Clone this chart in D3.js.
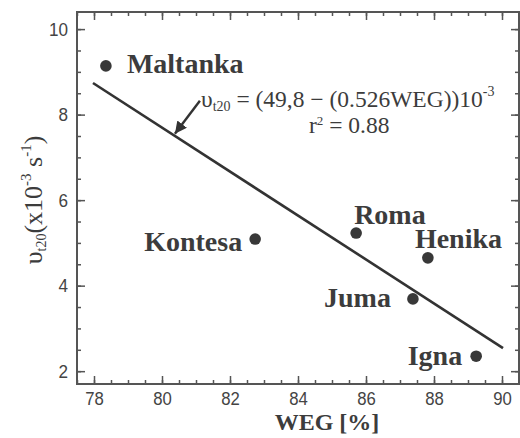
<!DOCTYPE html>
<html>
<head>
<meta charset="utf-8">
<script src="https://cdn.jsdelivr.net/npm/d3@7"></script>
<style>
  html, body { margin: 0; padding: 0; background: #fff; }
  svg { display: block; }
  .tick text { font-family: "Liberation Sans", Arial, sans-serif; font-size: 19px; fill: #444; }
  .tick line { stroke: #555; stroke-width: 1.5; }
  .domain { display: none; }
</style>
</head>
<body>
<div id="chart"></div>
<script>
// data
var cultivars = ["Maltanka", "Kontesa", "Roma", "Henika", "Juma", "Igna"]
var weg = [78.35, 82.74, 85.71, 87.82, 87.38, 89.24]
var v20 = [9.14, 5.09, 5.23, 4.65, 3.69, 2.35]
// fitted line end points: v = (49,8 - 0.526 WEG) 10^-3
var fitWeg = [77.97, 90.03]
var fitV = [8.74, 2.54]
var xTicks = [78, 80, 82, 84, 86, 88, 90]
var yTicks = [2, 4, 6, 8, 10]
var xMinor = d3.range(77.5, 90.51, 0.5)
var yMinor = d3.range(2, 10.41, 0.5)

var W = 520, H = 438
var margin = {top: 12, right: 1, bottom: 54, left: 77}
var width = W - margin.left - margin.right,
    height = H - margin.top - margin.bottom

var ink = "#3c3c3c"

var svg = d3.select("#chart").append("svg")
    .attr("width", W)
    .attr("height", H)

var g = svg.append("g").attr("transform", "translate(" + margin.left + "," + margin.top + ")")

var x = d3.scaleLinear().domain([77.5, 90.5]).range([0, width])
var y = d3.scaleLinear().domain([1.7, 10.4]).range([height, 0])

// minor ticks, all four sides
g.append("g").attr("transform", "translate(0," + height + ")")
    .call(d3.axisBottom(x).tickValues(xMinor).tickSize(-4).tickSizeOuter(0).tickFormat(""))
g.append("g")
    .call(d3.axisTop(x).tickValues(xMinor).tickSize(-4).tickSizeOuter(0).tickFormat(""))
g.append("g")
    .call(d3.axisLeft(y).tickValues(yMinor).tickSize(-4).tickSizeOuter(0).tickFormat(""))
g.append("g").attr("transform", "translate(" + width + ",0)")
    .call(d3.axisRight(y).tickValues(yMinor).tickSize(-4).tickSizeOuter(0).tickFormat(""))

// major ticks
var xAxis = g.append("g").attr("transform", "translate(0," + height + ")")
    .call(d3.axisBottom(x).tickValues(xTicks).tickSize(-8).tickSizeOuter(0).tickPadding(8))
xAxis.selectAll("text").attr("transform", "scale(0.88,1)")
g.append("g")
    .call(d3.axisTop(x).tickValues(xTicks).tickSize(-8).tickSizeOuter(0).tickFormat(""))
var yAxis = g.append("g")
    .call(d3.axisLeft(y).tickValues(yTicks).tickSize(-8).tickSizeOuter(0).tickPadding(10))
yAxis.selectAll("text").attr("transform", "scale(0.9,1)")
g.append("g").attr("transform", "translate(" + width + ",0)")
    .call(d3.axisRight(y).tickValues(yTicks).tickSize(-8).tickSizeOuter(0).tickFormat(""))

// frame
g.append("rect")
    .attr("width", width)
    .attr("height", height)
    .attr("fill", "none")
    .attr("stroke", "#555")
    .attr("stroke-width", 2)

// regression line
var line = d3.line()
    .x(function(d) { return x(d[0]) })
    .y(function(d) { return y(d[1]) })

g.append("path")
    .datum(fitWeg.map(function(d, i) { return [d, fitV[i]] }))
    .attr("d", line)
    .attr("fill", "none")
    .attr("stroke", "#333")
    .attr("stroke-width", 2.6)

// points
var pts = cultivars.map(function(c, i) { return {name: c, x: weg[i], y: v20[i]} })

g.selectAll(".dot")
    .data(pts)
    .enter().append("circle")
    .attr("class", "dot")
    .attr("cx", function(d) { return x(d.x) })
    .attr("cy", function(d) { return y(d.y) })
    .attr("r", 5.8)
    .attr("fill", "#383838")

// label placement relative to each dot
var labelPos = {
    Maltanka: {dx: 21, dy: 7, anchor: "start"},
    Kontesa: {dx: -13, dy: 12, anchor: "end"},
    Roma: {dx: -2, dy: -9, anchor: "start"},
    Henika: {dx: -13, dy: -10, anchor: "start"},
    Juma: {dx: -22, dy: 8, anchor: "end"},
    Igna: {dx: -14, dy: 9, anchor: "end"}
}

g.selectAll(".lbl")
    .data(pts)
    .enter().append("text")
    .attr("class", "lbl")
    .attr("x", function(d) { return x(d.x) + labelPos[d.name].dx })
    .attr("y", function(d) { return y(d.y) + labelPos[d.name].dy })
    .attr("text-anchor", function(d) { return labelPos[d.name].anchor })
    .attr("font-family", "'Liberation Serif', 'Times New Roman', serif")
    .attr("font-weight", "bold")
    .attr("font-size", 28)
    .attr("fill", ink)
    .text(function(d) { return d.name })

// arrow to the fitted line
svg.append("defs").append("marker")
    .attr("id", "arrow")
    .attr("viewBox", "0 0 10 10")
    .attr("refX", 10).attr("refY", 5)
    .attr("markerWidth", 5).attr("markerHeight", 5)
    .attr("markerUnits", "strokeWidth")
    .attr("orient", "auto")
  .append("path")
    .attr("d", "M0,0L10,5L0,10z")
    .attr("fill", "#333")

var tip = [80.35, 7.53]
g.append("line")
    .attr("x1", x(tip[0]) + 26).attr("y1", y(tip[1]) - 34)
    .attr("x2", x(tip[0]) + 1).attr("y2", y(tip[1]) - 1)
    .attr("stroke", "#333")
    .attr("stroke-width", 2.4)
    .attr("marker-end", "url(#arrow)")

// equation
var serif = "'Liberation Serif', 'Times New Roman', serif"
var eq = svg.append("text")
    .attr("x", 201).attr("y", 107)
    .attr("font-family", serif)
    .attr("font-size", 23.5)
    .attr("fill", ink)
eq.append("tspan").text("υ")
eq.append("tspan").attr("font-size", 14).attr("dy", 4).text("t20")
eq.append("tspan").attr("dy", -4).text(" = (49,8 − (0.526WEG))10")
eq.append("tspan").attr("font-size", 14).attr("dy", -11).text("-3")

var r2 = svg.append("text")
    .attr("x", 309).attr("y", 133)
    .attr("font-family", serif)
    .attr("font-size", 23.5)
    .attr("fill", ink)
r2.append("tspan").text("r")
r2.append("tspan").attr("font-size", 13).attr("dy", -8).text("2")
r2.append("tspan").attr("dy", 8).text(" = 0.88")

// axis titles
svg.append("text")
    .attr("x", 327).attr("y", 430)
    .attr("text-anchor", "middle")
    .attr("font-family", serif)
    .attr("font-weight", "bold")
    .attr("font-size", 24)
    .attr("fill", ink)
    .text("WEG [%]")

var yt = svg.append("text")
    .attr("transform", "translate(42,200) rotate(-90)")
    .attr("text-anchor", "middle")
    .attr("font-family", serif)
    .attr("font-size", 26)
    .attr("fill", ink)
yt.append("tspan").text("υ")
yt.append("tspan").attr("font-size", 14).attr("dy", 4).text("t20")
yt.append("tspan").attr("dy", -4).text("(x10")
yt.append("tspan").attr("font-size", 15).attr("dy", -11).text("-3")
yt.append("tspan").attr("dy", 11).text(" s")
yt.append("tspan").attr("font-size", 15).attr("dy", -11).text("-1")
yt.append("tspan").attr("dy", 11).text(")")
</script>
</body>
</html>
